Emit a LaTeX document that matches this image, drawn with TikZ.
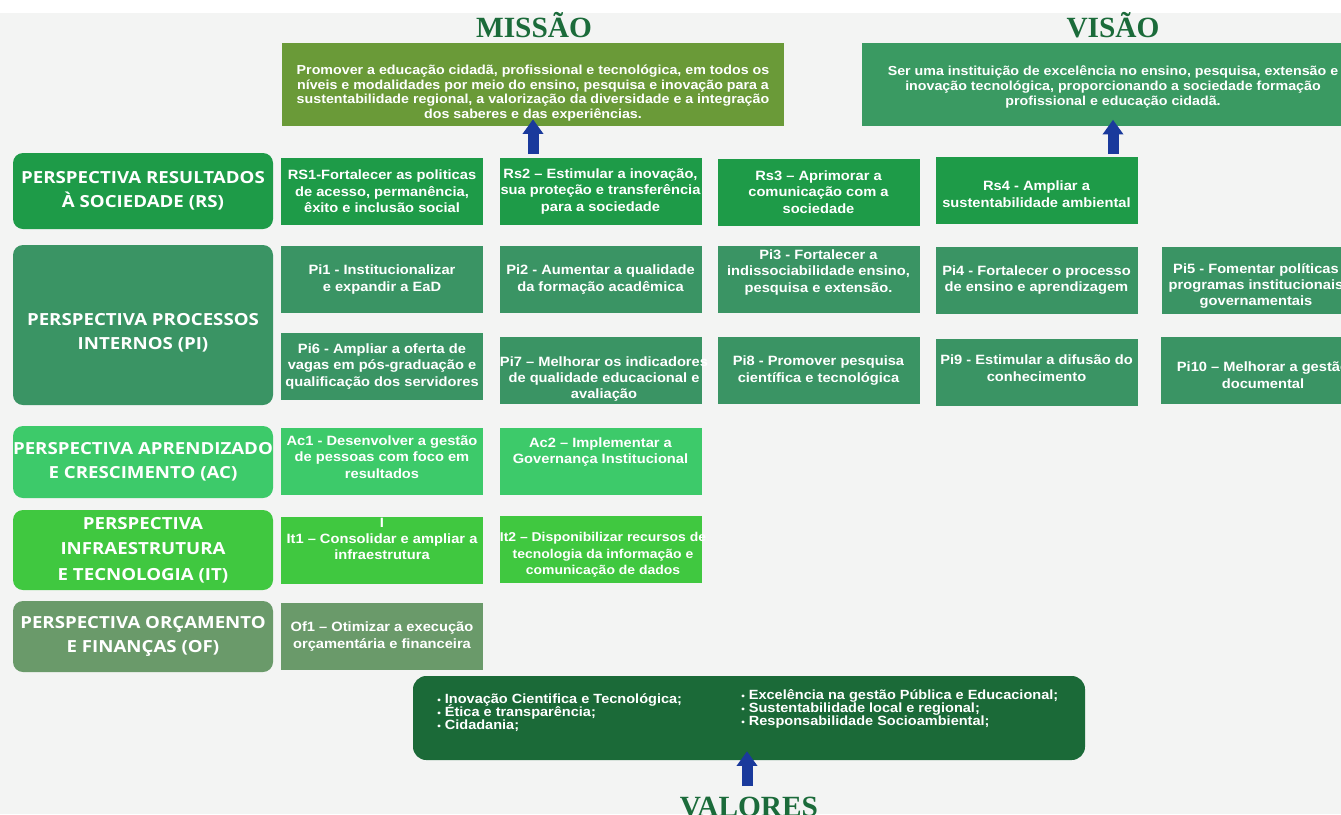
\documentclass[tikz,border=0pt]{standalone}
\usepackage{fontspec}
\setmainfont{Liberation Sans}
\newfontfamily\boxfont[FakeStretch=1.09]{Liberation Sans}
\newfontfamily\perspfont[FakeStretch=1.12]{Open Sans}
\newfontfamily\titlefont{Liberation Serif}
\usetikzlibrary{arrows.meta}
\newcommand\tightlines{\lineskiplimit=-10pt\relax}
\newcommand\valbullet{{\fontsize{7}{7}\selectfont•}}

\definecolor{bggray}{HTML}{F3F4F3}
\definecolor{titlegreen}{HTML}{1B6B3A}
\definecolor{missiongreen}{HTML}{6A9A38}
\definecolor{visiongreen}{HTML}{3A9A62}
\definecolor{rsgreen}{HTML}{1E9B48}
\definecolor{pigreen}{HTML}{3A9464}
\definecolor{acgreen}{HTML}{3DCA6A}
\definecolor{itgreen}{HTML}{40C840}
\definecolor{ofgreen}{HTML}{6A9A6A}
\definecolor{valgreen}{HTML}{1B6A38}
\definecolor{arrowblue}{HTML}{1A3A9C}

\begin{document}
\begin{tikzpicture}[x=0.75pt,y=0.75pt,yscale=-1,xscale=1,
	persptxt/.style={text=white, align=center, inner sep=0pt, font=\perspfont\bfseries\fontsize{12.5}{18}\selectfont},
	persp/.style={persptxt, rounded corners=7.5pt, minimum width=195pt},
	objtxt/.style={text=white, align=center, inner sep=0pt, font=\boxfont\bfseries\fontsize{10.1}{12.3}\selectfont},
	obj/.style={objtxt, minimum width=151.5pt, minimum height=50.25pt},
	statetxt/.style={text=white, align=center, inner sep=0pt, font=\boxfont\bfseries\fontsize{9.8}{10.9}\selectfont},
	statement/.style={statetxt, minimum width=376.5pt, minimum height=62.25pt},
	vallist/.style={text=white, align=left, inner sep=0pt, anchor=north west, font=\boxfont\bfseries\fontsize{10}{9.75}\selectfont\tightlines},
	heading/.style={anchor=base, text=titlegreen, font=\titlefont\bfseries\fontsize{22}{24}\selectfont},
	uparrow/.style={draw=arrowblue, line width=8.25pt, -{Triangle[width=15pt,length=11pt]}}]
		
		% background
		\fill[white] (0,0) rectangle (1341,814);
		\fill[bggray] (0,13) rectangle (1341,814);
		\useasboundingbox (0,0) rectangle (1341,814);
		
		% Missao e Visao
		\node[heading] (mistitle) at (534,37) {MISSÃO};
		\node[heading] (vistitle) at (1113,37) {VISÃO};
		\node[statement, fill=missiongreen] (mis) at (533,84.5) {};
		\node[statetxt] (mistxt) at (533,93) {Promover a educação cidadã, profissional e tecnológica, em todos os\\níveis e modalidades por meio do ensino, pesquisa e inovação para a\\sustentabilidade regional, a valorização da diversidade e a integração\\dos saberes e das experiências.};
		\node[statement, fill=visiongreen] (vis) at (1113,84) {};
		\node[statetxt] (vistxt) at (1113,87) {Ser uma instituição de excelência no ensino, pesquisa, extensão e\\inovação tecnológica, proporcionando a sociedade formação\\profissional e educação cidadã.};
		
		% Perspectivas
		\node[persp, fill=rsgreen, minimum height=57pt] (prs) at (143,191) {PERSPECTIVA RESULTADOS\\À SOCIEDADE (RS)};
		\node[persp, fill=pigreen, minimum height=120pt] (ppi) at (143,325) {};
		\node[persptxt] (ppitxt) at (143,333) {PERSPECTIVA PROCESSOS\\INTERNOS (PI)};
		\node[persp, fill=acgreen, minimum height=54pt] (pac) at (143,462) {PERSPECTIVA APRENDIZADO\\E CRESCIMENTO (AC)};
		\node[persp, fill=itgreen, minimum height=60pt, font=\perspfont\bfseries\fontsize{12.5}{19}\selectfont] (pit) at (143,550) {PERSPECTIVA\\INFRAESTRUTURA\\E TECNOLOGIA (IT)};
		\node[persp, fill=ofgreen, minimum height=53.25pt] (pof) at (143,636.5) {PERSPECTIVA ORÇAMENTO\\E FINANÇAS (OF)};
		
		% Resultados a sociedade
		\node[obj, fill=rsgreen] (rs1) at (382,191.5) {RS1-Fortalecer as politicas\\de acesso, permanência,\\êxito e inclusão social};
		\node[obj, fill=rsgreen] (rs2) at (600.5,191.5) {Rs2 – Estimular a inovação,\\sua proteção e transferência\\para a sociedade};
		\node[obj, fill=rsgreen] (rs3) at (818.5,192) {Rs3 – Aprimorar a\\comunicação com a\\sociedade};
		\node[obj, fill=rsgreen] (rs4) at (1036.5,190) {};
		\node[objtxt] (rs4txt) at (1036.5,194) {Rs4 - Ampliar a\\sustentabilidade ambiental};
		
		% Processos internos
		\node[obj, fill=pigreen] (pi1) at (382,279.5) {Pi1 - Institucionalizar\\e expandir a EaD};
		\node[obj, fill=pigreen] (pi2) at (600.5,279.5) {Pi2 - Aumentar a qualidade\\da formação acadêmica};
		\node[obj, fill=pigreen] (pi3) at (818.5,279.5) {};
		\node[objtxt] (pi3txt) at (818.5,272.5) {Pi3 - Fortalecer a\\indissociabilidade ensino,\\pesquisa e extensão.};
		\node[obj, fill=pigreen] (pi4) at (1036.5,280) {Pi4 - Fortalecer o processo\\de ensino e aprendizagem};
		\node[obj, fill=pigreen] (pi5) at (1263,280) {};
		\node[objtxt] (pi5txt) at (1256,286) {Pi5 - Fomentar políticas\\programas institucionais\\governamentais};
		\node[obj, fill=pigreen] (pi6) at (382,366.5) {Pi6 - Ampliar a oferta de\\vagas em pós-graduação e\\qualificação dos servidores};
		\node[obj, fill=pigreen] (pi7) at (600.5,370.5) {};
		\node[objtxt] (pi7txt) at (604,379) {Pi7 – Melhorar os indicadores\\de qualidade educacional e\\avaliação};
		\node[obj, fill=pigreen] (pi8) at (818.5,370.5) {Pi8 - Promover pesquisa\\científica e tecnológica};
		\node[obj, fill=pigreen] (pi9) at (1036.5,372) {};
		\node[objtxt] (pi9txt) at (1036.5,368) {Pi9 - Estimular a difusão do\\conhecimento};
		\node[obj, fill=pigreen] (pi10) at (1262,370.5) {};
		\node[objtxt] (pi10txt) at (1263,375) {Pi10 – Melhorar a gestão\\documental};
		
		% Aprendizado, infraestrutura, orcamento
		\node[obj, fill=acgreen] (ac1) at (382,461) {};
		\node[objtxt] (ac1txt) at (382,457) {Ac1 - Desenvolver a gestão\\de pessoas com foco em\\resultados};
		\node[obj, fill=acgreen] (ac2) at (600.5,461) {};
		\node[objtxt] (ac2txt) at (600.5,452) {Ac2 – Implementar a\\Governança Institucional};
		\node[obj, fill=itgreen] (it1) at (382,550) {};
		\node[objtxt] (it1txt) at (382,539) {I\\It1 – Consolidar e ampliar a\\infraestrutura};
		\node[obj, fill=itgreen] (it2) at (600.5,549.5) {};
		\node[objtxt, font=\boxfont\bfseries\fontsize{9.6}{12.3}\selectfont] (it2txt) at (603,555) {It2 – Disponibilizar recursos de\\tecnologia da informação e\\comunicação de dados};
		\node[obj, fill=ofgreen] (of1) at (382,636.5) {Of1 – Otimizar a execução\\orçamentária e financeira};
		
		% Valores
		\node[rounded corners=10pt, fill=valgreen, minimum width=504pt, minimum height=63pt] (val) at (749,718) {};
		\node[vallist] (vallistA) at (437,693) {\valbullet{} Inovação Cientifica e Tecnológica;\\\valbullet{} Ética e transparência;\\\valbullet{} Cidadania;};
		\node[vallist] (vallistB) at (741,689) {\valbullet{} Excelência na gestão Pública e Educacional;\\\valbullet{} Sustentabilidade local e regional;\\\valbullet{} Responsabilidade Socioambiental;};
		\node[heading] (valtitle) at (749,816) {VALORES};
		
		% setas
		\coordinate (misfoot) at (533,154);
		\coordinate (visfoot) at (1113,154);
		\coordinate (valfoot) at (747,786);
		\draw[uparrow, shorten >=-5.25pt] (misfoot) -- (misfoot |- mis.south);
		\draw[uparrow, shorten >=-4.5pt] (visfoot) -- (visfoot |- vis.south);
		\draw[uparrow, shorten >=-6.75pt] (valfoot) -- (valfoot |- val.south);
		
\end{tikzpicture}
\end{document}
